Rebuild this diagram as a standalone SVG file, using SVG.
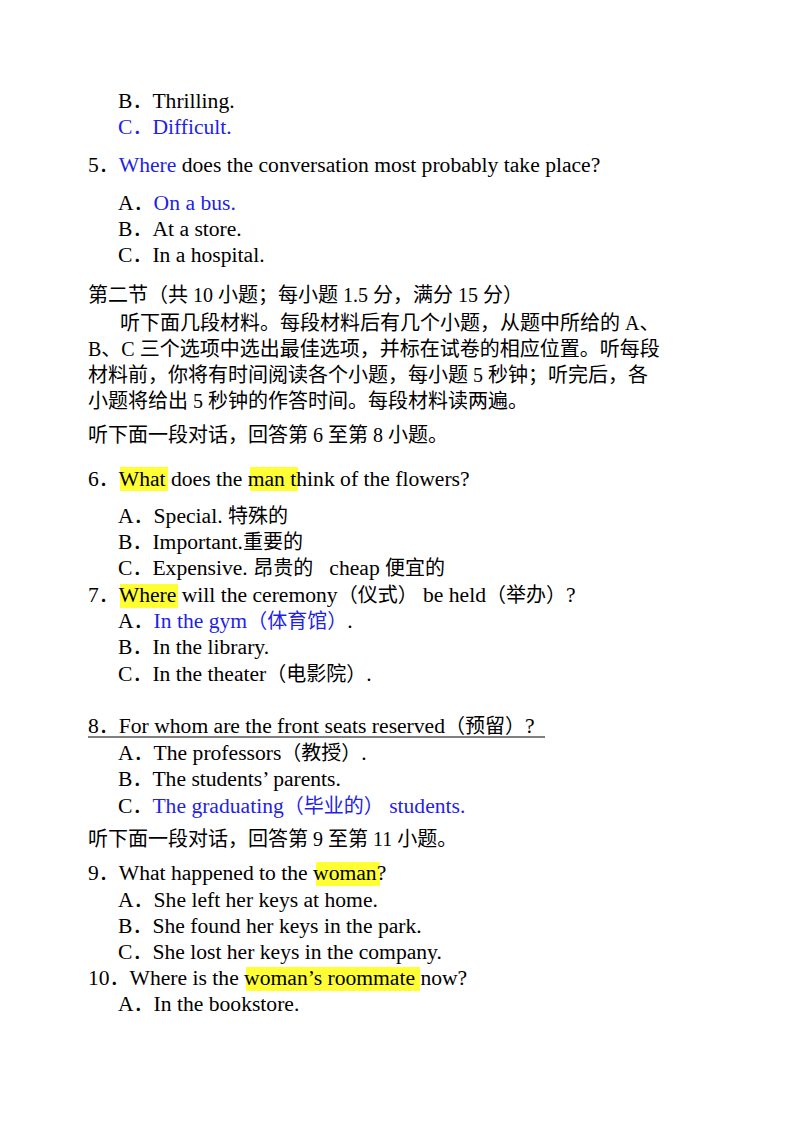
<svg xmlns="http://www.w3.org/2000/svg" width="800" height="1130" viewBox="0 0 800 1130">
<style>
text{font-family:"Liberation Serif","Noto Sans CJK SC",serif;font-size:21.6px;fill:#000}
.c{font-size:20px}
.b{fill:#1f1fe6}
.hl{fill:#ffff33}
</style>
<rect width="800" height="1130" fill="#fff"/>
<rect class="hl" x="120" y="467" width="48" height="24"/>
<rect class="hl" x="250" y="467" width="48" height="24"/>
<rect class="hl" x="120" y="584" width="58" height="24"/>
<rect class="hl" x="316" y="862" width="64" height="24"/>
<rect class="hl" x="246" y="967" width="174" height="24"/>
<text x="118" y="108">B<tspan class="c">．</tspan>Thrilling.</text>
<text x="118" y="134" class="b">C<tspan class="c">．</tspan>Difficult.</text>
<text x="88" y="172">5<tspan class="c">．</tspan><tspan class="b">Where</tspan> does the conversation most probably take place?</text>
<text x="118" y="210">A<tspan class="c">．</tspan><tspan class="b">On a bus.</tspan></text>
<text x="118" y="236">B<tspan class="c">．</tspan>At a store.</text>
<text x="118" y="262">C<tspan class="c">．</tspan>In a hospital.</text>
<text x="88" y="302" class="c">第二节（共 10 小题；每小题 1.5 分，满分 15 分）</text>
<text x="120" y="330" class="c">听下面几段材料。每段材料后有几个小题，从题中所给的 A、</text>
<text x="88" y="356" class="c">B、C 三个选项中选出最佳选项，并标在试卷的相应位置。听每段</text>
<text x="88" y="382" class="c">材料前，你将有时间阅读各个小题，每小题 5 秒钟；听完后，各</text>
<text x="88" y="408" class="c">小题将给出 5 秒钟的作答时间。每段材料读两遍。</text>
<text x="88" y="442" class="c">听下面一段对话，回答第 6 至第 8 小题。</text>
<text x="88" y="486">6<tspan class="c">．</tspan>What does the man think of the flowers?</text>
<text x="118" y="523">A<tspan class="c">．</tspan>Special. <tspan class="c">特殊的</tspan></text>
<text x="118" y="549">B<tspan class="c">．</tspan>Important.<tspan class="c">重要的</tspan></text>
<text x="118" y="575">C<tspan class="c">．</tspan>Expensive. <tspan class="c">昂贵的</tspan>&#160;&#160;&#160;cheap <tspan class="c">便宜的</tspan></text>
<text x="88" y="602">7<tspan class="c">．</tspan>Where will the ceremony<tspan class="c">（仪式）</tspan> be held<tspan class="c">（举办）</tspan>?</text>
<text x="118" y="628">A<tspan class="c">．</tspan><tspan class="b">In the gym<tspan class="c">（体育馆）</tspan></tspan>.</text>
<text x="118" y="654">B<tspan class="c">．</tspan>In the library.</text>
<text x="118" y="681">C<tspan class="c">．</tspan>In the theater<tspan class="c">（电影院）</tspan>.</text>
<text x="88" y="733">8<tspan class="c">．</tspan>For whom are the front seats reserved<tspan class="c">（预留）</tspan>?</text>
<line x1="88" y1="737" x2="545" y2="737" stroke="#000" stroke-width="1.2"/>
<text x="118" y="760">A<tspan class="c">．</tspan>The professors<tspan class="c">（教授）</tspan>.</text>
<text x="118" y="786">B<tspan class="c">．</tspan>The students’ parents.</text>
<text x="118" y="813">C<tspan class="c">．</tspan><tspan class="b">The graduating<tspan class="c">（毕业的）</tspan> students.</tspan></text>
<text x="88" y="846" class="c">听下面一段对话，回答第 9 至第 11 小题。</text>
<text x="88" y="880">9<tspan class="c">．</tspan>What happened to the woman?</text>
<text x="118" y="907">A<tspan class="c">．</tspan>She left her keys at home.</text>
<text x="118" y="933">B<tspan class="c">．</tspan>She found her keys in the park.</text>
<text x="118" y="959">C<tspan class="c">．</tspan>She lost her keys in the company.</text>
<text x="88" y="985">10<tspan class="c">．</tspan>Where is the woman’s roommate now?</text>
<text x="118" y="1011">A<tspan class="c">．</tspan>In the bookstore.</text>
</svg>
